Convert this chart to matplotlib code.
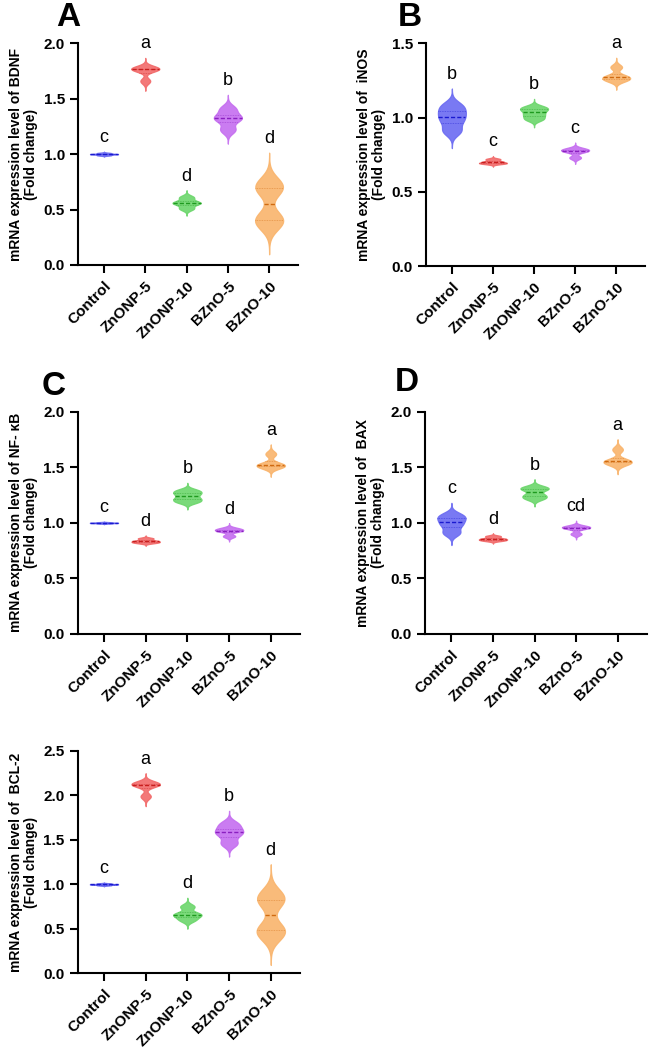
import numpy as np
import matplotlib
matplotlib.use("Agg")
import matplotlib.pyplot as plt

plt.rcParams['font.family'] = ['Liberation Sans', 'DejaVu Sans']

groups = ["Control", "ZnONP-5", "ZnONP-10", "BZnO-5", "BZnO-10"]
face_colors = ["#6b6bf2", "#f26a6a", "#6cd66c", "#c56ef0", "#f9b46c"]
line_colors = ["#1a1ad0", "#c81e1e", "#1f9a1f", "#8a1fc0", "#d06a10"]

# replicate fold-change values
bdnf = [[0.99, 1.00, 1.00, 1.01],
        [1.66, 1.76, 1.77, 1.78],
        [0.51, 0.555, 0.565, 0.61],
        [1.22, 1.31, 1.34, 1.41],
        [0.38, 0.42, 0.68, 0.73]]
inos = [[0.91, 0.98, 1.03, 1.08],
        [0.69, 0.695, 0.705, 0.72],
        [0.99, 1.02, 1.05, 1.07],
        [0.73, 0.77, 0.78, 0.79],
        [1.25, 1.265, 1.28, 1.34]]
nfkb = [[0.995, 1.00, 1.00, 1.005],
        [0.82, 0.83, 0.84, 0.86],
        [1.19, 1.22, 1.26, 1.29],
        [0.88, 0.925, 0.935, 0.95],
        [1.50, 1.515, 1.53, 1.62]]
bax = [[0.91, 0.98, 1.03, 1.07],
       [0.84, 0.85, 0.86, 0.88],
       [1.22, 1.25, 1.30, 1.32],
       [0.90, 0.95, 0.96, 0.97],
       [1.53, 1.55, 1.56, 1.66]]
bcl2 = [[0.99, 1.00, 1.00, 1.01],
        [1.99, 2.11, 2.13, 2.14],
        [0.60, 0.65, 0.67, 0.75],
        [1.46, 1.56, 1.61, 1.68],
        [0.44, 0.50, 0.80, 0.88]]

sig_bdnf = ["c", "a", "d", "b", "d"]
sig_inos = ["b", "c", "b", "c", "a"]
sig_nfkb = ["c", "d", "b", "d", "a"]
sig_bax = ["c", "d", "b", "cd", "a"]
sig_bcl2 = ["c", "a", "d", "b", "d"]


def kde_stats(vals):
    """Gaussian KDE with tails, packed the way Axes.violin wants it."""
    vals = np.asarray(vals, float)
    bw = 0.6 * max(vals.std(ddof=1), 0.005) * len(vals) ** (-1 / 5)
    lo, hi = vals.min() - 3.5 * bw, vals.max() + 3.5 * bw
    coords = np.linspace(lo, hi, 300)
    dens = np.exp(-0.5 * ((coords[:, None] - vals[None, :]) / bw) ** 2).sum(axis=1)
    return dict(coords=coords, vals=dens, mean=vals.mean(), median=np.median(vals),
                min=lo, max=hi)


def panel(rect, data, sig, ymax, label, letter=None, letter_xy=None):
    ax = fig.add_axes(rect)
    pos = np.arange(len(groups))
    width = 0.68
    stats = [kde_stats(d) for d in data]
    parts = ax.violin(stats, positions=pos, widths=width, showmeans=False,
                      showextrema=False, showmedians=False)
    for i, body in enumerate(parts['bodies']):
        body.set_facecolor(face_colors[i])
        body.set_edgecolor(face_colors[i])
        body.set_alpha(0.9)
        body.set_linewidth(0.9)
        st = stats[i]
        dmax = st['vals'].max()
        q1, q3 = np.percentile(data[i], [25, 75])
        for y, ls, lw, a in [(st['median'], (0, (3, 1.5)), 1.0, 1.0),
                             (q1, (0, (1, 1)), 0.6, 0.5),
                             (q3, (0, (1, 1)), 0.6, 0.5)]:
            hw = np.interp(y, st['coords'], st['vals']) / dmax * width / 2
            ax.plot([pos[i] - hw, pos[i] + hw], [y, y], color=line_colors[i],
                    ls=ls, lw=lw, alpha=a)
        ax.annotate(sig[i], (pos[i], st['max']), xytext=(0, 4),
                    textcoords='offset points', ha='center', va='bottom',
                    fontsize=13)
    ax.set_xlim(-0.63, 4.7)
    ax.set_ylim(0, ymax)
    ticks = np.arange(0, ymax + 0.01, 0.5)
    ax.set_yticks(ticks)
    ax.set_yticklabels([f"{t:.1f}" for t in ticks], fontweight='bold', fontsize=11)
    ax.set_xticks(pos)
    ax.set_xticklabels(groups, rotation=45, ha='right', rotation_mode='anchor',
                       fontweight='bold', fontsize=11)
    for s in ['top', 'right']:
        ax.spines[s].set_visible(False)
    for s in ['left', 'bottom']:
        ax.spines[s].set_linewidth(1.5)
    ax.tick_params(axis='both', width=1.5, length=6)
    ax.tick_params(axis='x', pad=4)
    ax.set_ylabel(label, fontsize=10, fontweight='bold', labelpad=4, linespacing=1.1)
    if letter:
        fig.text(letter_xy[0], letter_xy[1], letter, fontsize=24,
                 fontweight='bold', ha='left', va='top')
    return ax


fig = plt.figure(figsize=(6.49, 10.57), dpi=100)

panel([0.1202, 0.7493, 0.339, 0.2097], bdnf, sig_bdnf, 2.0,
      "mRNA expression level of BDNF\n(Fold change)", "A", (56 / 649, 1 - 2 / 1057))
panel([0.6564, 0.7483, 0.3374, 0.2107], inos, sig_inos, 1.5,
      "mRNA expression level of  iNOS\n(Fold change)", "B", (398 / 649, 1 - 2 / 1057))
panel([0.1197, 0.4002, 0.3425, 0.2103], nfkb, sig_nfkb, 2.0,
      "mRNA expression level of NF- κB\n(Fold change)", "C", (42 / 649, 1 - 371 / 1057))
panel([0.6553, 0.4002, 0.3411, 0.2103], bax, sig_bax, 2.0,
      "mRNA expression level of  BAX\n(Fold change)", "D", (395 / 649, 1 - 367 / 1057))
panel([0.1197, 0.0792, 0.3425, 0.2103], bcl2, sig_bcl2, 2.5,
      "mRNA expression level of  BCL-2\n(Fold change)")

fig.savefig("out.png", dpi=100)
